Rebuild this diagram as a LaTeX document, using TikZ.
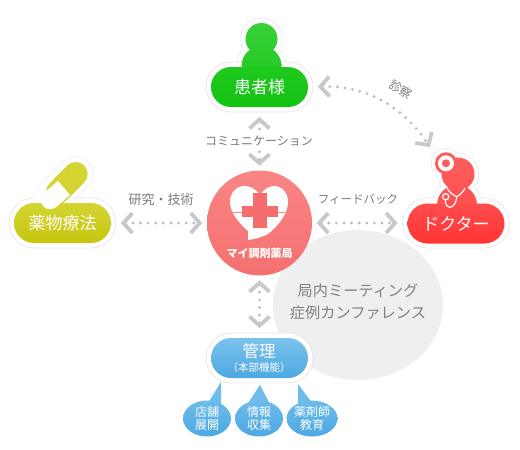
\documentclass[tikz,border=0pt]{standalone}
\usepackage{fontspec}
\setmainfont{Noto Sans CJK JP}
\usetikzlibrary{shapes.misc,shapes.geometric,arrows.meta}
\definecolor{chev}{HTML}{C8C8C8}
\definecolor{dotc}{HTML}{BDBDBD}
\definecolor{labelc}{HTML}{7A7A7A}
\definecolor{haloline}{HTML}{E6E6E6}
\definecolor{blobc}{HTML}{EFEFEF}
\definecolor{bub1}{HTML}{6DBCEA}
\definecolor{bub2}{HTML}{4DA8E2}
\definecolor{green1}{HTML}{38D038}
\definecolor{green2}{HTML}{1FCA1F}
\definecolor{green3}{HTML}{12C212}
\definecolor{med1}{HTML}{D4D432}
\definecolor{med2}{HTML}{C6C610}
\definecolor{red1}{HTML}{FF5C5C}
\definecolor{red2}{HTML}{FF4C4C}
\definecolor{red3}{HTML}{FF3434}
\definecolor{ctr1}{HTML}{FA8585}
\definecolor{ctr2}{HTML}{F57070}
\definecolor{crossc}{HTML}{F56E6E}
\newcommand{\fsz}[1]{\fontsize{#1}{#1}\selectfont}
\tikzset{
  halo/.style={rounded rectangle,inner sep=0pt,minimum width=107pt,minimum height=50pt,fill=white,draw=haloline,line width=.7pt},
  pillbase/.style={rounded rectangle,inner sep=0pt,minimum width=97pt,minimum height=40pt,text=white},
  conn/.style={draw=dotc,line width=3.2pt,line cap=round,dash pattern=on 0pt off 7.6pt,
    {Straight Barb[length=9pt,width=20pt,line width=3.8pt,color=chev]}-{Straight Barb[length=9pt,width=20pt,line width=3.8pt,color=chev]},
    shorten >=4.5pt,shorten <=4.5pt},
  lab/.style={text=labelc,inner sep=1pt,font=\fsz{12.5}},
  bubble/.style={ellipse,inner sep=0pt,minimum width=48pt,minimum height=36pt,top color=bub1,bottom color=bub2,text=white,align=center,font=\fsz{12}},
  tail/.style={fill=bub1},
}
\begin{document}
\begin{tikzpicture}[x=1pt,y=-1pt]
\useasboundingbox (0,0) rectangle (520,450);
% blob
\node[ellipse,fill=blobc,minimum width=170pt,minimum height=150pt,inner sep=0pt] (blob) at (358,305) {};
\node[text=labelc!95!white,align=center,font=\fsz{15.2},inner sep=0pt] (blobtext) at (358,301.5) {局内ミーティング\\[7pt]症例カンファレンス};

% patient figure
\fill[haloline] (261.5,39) circle (21.2) (261.5,66) circle (25.2);
\fill[white] (261.5,39) circle (20.5) (261.5,66) circle (24.5);
\node[halo] (patient) at (259.5,87) {};
\fill[white] (240,60) rectangle (283,72);
\shade[top color=green1,bottom color=green2] (261.5,39) circle (16) (261.5,66) circle (20);
\node[pillbase,top color=green2,bottom color=green3,font=\fsz{17}] (patientfill) at (259.5,87) {患者様};

% medicine
\draw[haloline,line width=35pt,line cap=round] (53,197) -- (75.7,174);
\draw[white,line width=34pt,line cap=round] (53,197) -- (75.7,174);
\node[halo] (medicine) at (62.5,223) {};
\fill[white] (35,190) rectangle (72,200);
\node[pillbase,top color=med1,bottom color=med2,font=\fsz{17}] (medicinefill) at (62.5,223) {薬物療法};
\draw[med1,line width=24pt,line cap=round] (58,192) -- (75.7,174);
\draw[white,line width=18.5pt,line cap=butt] (64,188) -- (50,200);
\fill[white] (50,200) circle (9.25);

% doctor figure
\fill[haloline] (458,174) circle (21.2) (457,205) circle (25.2) (446,163.3) circle (15.2);
\fill[white] (458,174) circle (20.5) (457,205) circle (24.5) (446,163.3) circle (14.5);
\node[halo] (doctor) at (456,223) {};
\fill[white] (436,196) rectangle (479,206);
\shade[top color=red1,bottom color=red2] (458,174) circle (16.5) (457,205) circle (20);
\fill[red1] (446,163.3) circle (11);
\fill[white] (446,163.3) circle (8);
\fill[red1] (446,163.3) circle (4);
\node[pillbase,top color=red2,bottom color=red3,font=\fsz{17}] (doctorfill) at (456,223.5) {ドクター};
\draw[white,line width=1.2pt] (447,188) .. controls (449,192) and (453,195) .. (456.7,196.7) .. controls (460,195) and (463,192) .. (465,188.3);
\draw[white,line width=1.2pt] (456.7,196.7) .. controls (456.5,203) and (453,207.5) .. (450,207.2) .. controls (447,207) and (445,204) .. (445.5,200);
\draw[white,line width=1.2pt] (445.7,196.7) circle (3.1);

% management
\node[halo] (manage) at (259.5,358) {};
\coordinate (tipa) at (221,382);
\coordinate (tipb) at (260,385);
\coordinate (tipc) at (298,384);
\coordinate (basea) at (205,408);
\coordinate (baseb) at (221,408);
\coordinate (basec) at (245,408);
\coordinate (based) at (272,408);
\coordinate (basee) at (298,412);
\coordinate (basef) at (316,408);
\fill[tail] (tipa) -- (baseb) -- (basea) -- cycle;
\fill[tail] (tipb) -- (based) -- (basec) -- cycle;
\fill[tail] (tipc) -- (basef) -- (basee) -- cycle;
\node[bubble] (shop) at (207,418.5) {店舗\\[1pt]展開};
\node[bubble] (info) at (259,418.5) {情報\\[1pt]収集};
\node[bubble] (edu) at (312,418.5) {薬剤師\\[1pt]教育};
\node[pillbase,top color=bub1!90!white,bottom color=bub2] (managefill) at (259.5,358) {};
\node[text=white,font=\fsz{16.5},inner sep=0pt] (managetitle) at (259,351) {管理};
\node[text=white,font=\fsz{10.5},inner sep=0pt] (managesub) at (259,367.5) {（本部機能）};

% centre
\node[circle,inner sep=0pt,minimum size=105pt,top color=ctr1,bottom color=ctr2] (centre) at (259.5,223) {};
\fill[white] (260,195) .. controls (256,189) and (250,186) .. (245,186)
  .. controls (236,186) and (230,193) .. (230,202)
  .. controls (230,213) and (240,224) .. (248,231)
  -- (248,240) .. controls (256,239) and (262,237) .. (268,234)
  .. controls (278,226) and (288,214) .. (288,202)
  .. controls (288,193) and (282,186) .. (274,186)
  .. controls (269,186) and (264,189) .. (260,195) -- cycle;
\draw[ctr1,line width=.6pt] (233,212) -- (285,212);
\fill[crossc] (253,193) rectangle (267,228);
\fill[crossc] (242,206) rectangle (278,217);
\node[text=white,font=\bfseries\fsz{11},inner sep=0pt] (centretext) at (259.5,253) {マイ調剤薬局};

% connectors
\coordinate (doctorin) at (430,147);
\draw[conn] (patient.south) -- (centre.north);
\draw[conn] (medicine.east) -- (centre.west);
\draw[conn] (centre.east) -- (doctor.west);
\draw[conn] (centre.south) -- (manage.north);
\draw[conn,shorten >=0pt] (patient.east) .. controls (370,85) and (405,110) .. (doctorin);

% labels
\node[lab,fill=white,fill opacity=.8,text opacity=1,font=\fsz{12}] (lcomm) at (259,141) {コミュニケーション};
\node[lab,font=\fsz{13}] (lres) at (161,200) {研究・技術};
\node[lab,font=\fsz{11.5}] (lfeed) at (358,199) {フィードバック};
\node[lab,rotate=-30,font=\fsz{12}] (lexam) at (401,90) {診察};
\end{tikzpicture}
\end{document}
